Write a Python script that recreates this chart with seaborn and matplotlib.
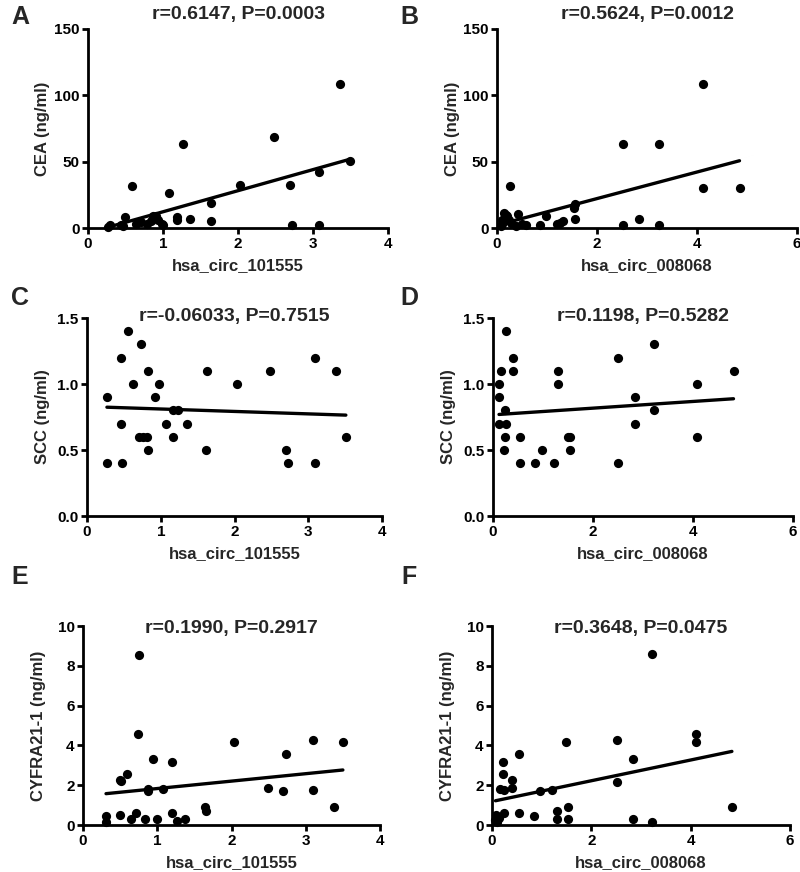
import matplotlib
matplotlib.use("Agg")
import matplotlib.pyplot as plt
import seaborn as sns

# ── data ─────────────────────────────────────────────────────────────────────
a_x = [0.27, 0.29, 0.44, 0.47, 0.49, 0.58, 0.64, 0.71, 0.79, 0.84, 0.87, 0.91, 0.93, 0.98, 1.00,
       1.08, 1.18, 1.19, 1.26, 1.36, 1.64, 1.64, 2.03, 2.48, 2.69, 2.72, 3.08, 3.08, 3.36, 3.49]
a_cea = [1.0, 2.5, 2.5, 1.5, 8.0, 31.4, 3.0, 4.3, 3.3, 5.0, 8.8, 9.3, 6.3, 3.0, 2.5,
         26.4, 8.0, 6.3, 63.6, 7.0, 18.8, 5.0, 32.2, 68.6, 32.2, 2.0, 42.2, 2.0, 108.5, 50.3]

b_x = [0.07, 0.09, 0.10, 0.13, 0.13, 0.17, 0.20, 0.23, 0.25, 0.27, 0.37, 0.41, 0.50, 0.57, 0.85,
       0.98, 1.20, 1.25, 1.32, 1.53, 1.55, 1.55, 2.52, 2.52, 2.84, 3.24, 3.24, 4.11, 4.11, 4.85]
b_cea = [1.3, 3.0, 6.3, 11.3, 5.0, 10.0, 8.8, 6.3, 31.4, 3.8, 1.3, 10.8, 3.0, 2.5, 2.5,
         9.3, 3.0, 3.8, 5.5, 15.0, 18.3, 7.0, 63.6, 2.5, 7.0, 63.6, 2.5, 108.5, 29.9, 29.9]

c_x = [0.27, 0.27, 0.46, 0.46, 0.47, 0.56, 0.62, 0.71, 0.73, 0.76, 0.82, 0.83, 0.83, 0.92, 0.97,
       1.07, 1.17, 1.17, 1.24, 1.35, 1.62, 1.63, 2.03, 2.48, 2.70, 2.72, 3.09, 3.09, 3.37, 3.51]
c_scc = [0.9, 0.4, 1.2, 0.7, 0.4, 1.4, 1.0, 0.6, 1.3, 0.6, 0.6, 1.1, 0.5, 0.9, 1.0,
         0.7, 0.6, 0.8, 0.8, 0.7, 0.5, 1.1, 1.0, 1.1, 0.5, 0.4, 1.2, 0.4, 1.1, 0.6]

d_x = [0.12, 0.12, 0.12, 0.15, 0.22, 0.24, 0.24, 0.25, 0.25, 0.40, 0.40, 0.53, 0.53, 0.83, 0.97,
       1.21, 1.30, 1.30, 1.49, 1.53, 1.53, 2.50, 2.50, 2.83, 2.83, 3.22, 3.22, 4.08, 4.08, 4.81]
d_scc = [1.0, 0.9, 0.7, 1.1, 0.5, 0.8, 0.6, 1.4, 0.7, 1.2, 1.1, 0.6, 0.4, 0.4, 0.5,
         0.4, 1.1, 1.0, 0.6, 0.6, 0.5, 1.2, 0.4, 0.9, 0.7, 1.3, 0.8, 1.0, 0.6, 1.1]

e_x = [0.31, 0.31, 0.50, 0.51, 0.50, 0.59, 0.65, 0.72, 0.74, 0.76, 0.84, 0.87, 0.87, 0.94, 1.00,
       1.08, 1.20, 1.20, 1.26, 1.38, 1.64, 1.65, 2.04, 2.49, 2.73, 2.70, 3.10, 3.10, 3.38, 3.50]
e_cyfra = [0.45, 0.17, 2.26, 2.20, 0.50, 2.56, 0.28, 0.59, 4.57, 8.55, 0.28, 1.79, 1.72, 3.30, 0.28,
           1.79, 3.18, 0.59, 0.22, 0.32, 0.92, 0.72, 4.17, 1.84, 3.56, 1.72, 4.27, 1.76, 0.92, 4.17]

f_x = [0.07, 0.09, 0.11, 0.15, 0.17, 0.23, 0.23, 0.25, 0.25, 0.40, 0.40, 0.54, 0.54, 0.84, 0.96,
       1.21, 1.31, 1.31, 1.49, 1.53, 1.53, 2.51, 2.51, 2.83, 2.83, 3.22, 3.22, 4.10, 4.10, 4.83]
f_cyfra = [0.25, 0.50, 0.17, 0.34, 1.80, 3.19, 2.57, 1.76, 0.59, 2.26, 1.85, 3.57, 0.59, 0.45, 1.73,
           1.76, 0.70, 0.29, 4.18, 0.92, 0.29, 4.28, 2.16, 3.31, 0.32, 8.57, 0.17, 4.58, 4.18, 0.92]

titles = ["r=0.6147, P=0.0003", "r=0.5624, P=0.0012",
          "r=-0.06033, P=0.7515", "r=0.1198, P=0.5282",
          "r=0.1990, P=0.2917", "r=0.3648, P=0.0475"]
letters = ["A", "B", "C", "D", "E", "F"]

# ── style ─────────────────────────────────────────────────────────────────────
sns.set_style("ticks")
plt.rcParams.update({
    "font.family": ["Liberation Sans", "DejaVu Sans"],
    "font.weight": "bold",
    "axes.labelweight": "bold",
    "axes.linewidth": 2.0,
    "xtick.major.width": 2.0,
    "ytick.major.width": 2.0,
    "xtick.major.size": 4.5,
    "ytick.major.size": 4.5,
    "xtick.major.pad": 2,
    "ytick.major.pad": 1.5,
    "xtick.labelsize": 11,
    "ytick.labelsize": 11,
    "xtick.color": "black",
    "ytick.color": "black",
    "axes.edgecolor": "black",
})

W, H = 800, 872
fig = plt.figure(figsize=(8, 8.72), dpi=100)


def box(x0, x1, y0, y1):
    return [x0 / W, 1 - y1 / H, (x1 - x0) / W, (y1 - y0) / H]


panels = [
    # x, y, axes box (px), xmax, ylim, yticks, xlabel, ylabel, title y (px)
    (a_x, a_cea, box(88, 388, 29, 228), 4, (0, 150), [0, 50, 100, 150],
     "hsa_circ_101555", "CEA (ng/ml)", 15),
    (b_x, b_cea, box(497, 797, 29, 228), 6, (0, 150), [0, 50, 100, 150],
     "hsa_circ_008068", "CEA (ng/ml)", 15),
    (c_x, c_scc, box(87, 382, 318, 516), 4, (0, 1.5), [0.0, 0.5, 1.0, 1.5],
     "hsa_circ_101555", "SCC (ng/ml)", 316),
    (d_x, d_scc, box(493, 793, 318, 516), 6, (0, 1.5), [0.0, 0.5, 1.0, 1.5],
     "hsa_circ_008068", "SCC (ng/ml)", 316),
    (e_x, e_cyfra, box(83, 380, 626, 825), 4, (0, 10), [0, 2, 4, 6, 8, 10],
     "hsa_circ_101555", "CYFRA21-1 (ng/ml)", 628),
    (f_x, f_cyfra, box(492, 790, 626, 825), 6, (0, 10), [0, 2, 4, 6, 8, 10],
     "hsa_circ_008068", "CYFRA21-1 (ng/ml)", 628),
]

letter_pos = [(20, 17), (409, 17), (20, 298), (409, 298), (20, 577), (409, 577)]

for i, (xs, ys, rect, xmax, ylim, yticks, xlab, ylab, ty) in enumerate(panels):
    ax = fig.add_axes(rect)
    sns.regplot(x=xs, y=ys, ax=ax, ci=None, color="black", truncate=True,
                scatter_kws={"s": 44, "linewidths": 0, "alpha": 1, "clip_on": False, "zorder": 4},
                line_kws={"lw": 2.4, "zorder": 3})
    ax.set_xlim(0, xmax)
    ax.set_ylim(*ylim)
    ax.set_xticks(range(0, xmax + 1, 1 if xmax == 4 else 2))
    ax.set_yticks(yticks)
    if ylim[1] == 1.5:
        ax.set_yticklabels([f"{v:.1f}" for v in yticks])
    for lab in ax.get_xticklabels() + ax.get_yticklabels():
        lab.set_fontweight("bold")
    sns.despine(ax=ax)
    for sp in ("left", "bottom"):
        ax.spines[sp].set_capstyle("projecting")

    ax.set_xlabel(xlab, fontsize=12, fontweight="bold", va="center")
    ax.xaxis.set_label_coords(0.5, -38 / 199)
    ax.set_ylabel(ylab, fontsize=12, fontweight="bold", va="center")
    ax.yaxis.set_label_coords(-45 / 300, 0.5)

    x0 = rect[0] * W
    x1 = (rect[0] + rect[2]) * W
    fig.text((x0 + x1) / 2 / W, 1 - ty / H, titles[i], ha="center", va="center",
             fontsize=14, fontweight="bold")
    lx, ly = letter_pos[i]
    fig.text(lx / W, 1 - ly / H, letters[i], ha="center", va="center",
             fontsize=18, fontweight="bold")

fig.savefig("out.png", dpi=100)
